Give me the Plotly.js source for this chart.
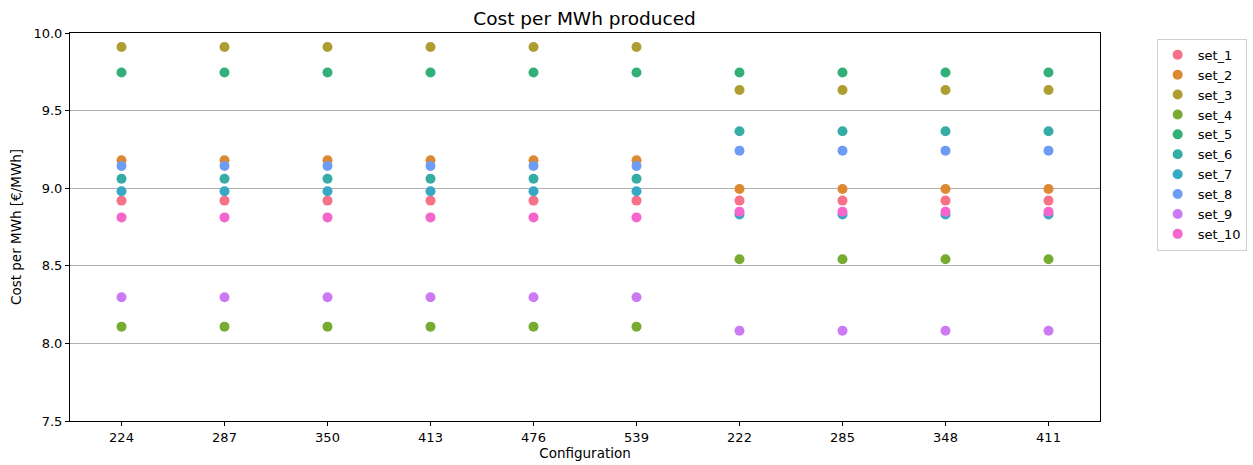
<!DOCTYPE html>
<html>
<head>
<meta charset="utf-8">
<script src="https://cdn.plot.ly/plotly-3.0.1.min.js"></script>
<style>html,body{margin:0;padding:0;background:#fff;}#chart{width:1253px;height:465px;}</style>
</head>
<body>
<div id="chart"></div>
<script>
const configurations = ["224","287","350","413","476","539","222","285","348","411"];
const seriesNames = ["set_1","set_2","set_3","set_4","set_5","set_6","set_7","set_8","set_9","set_10"];
const set_1  = [8.92,8.92,8.92,8.92,8.92,8.92,8.92,8.92,8.92,8.92];
const set_2  = [9.18,9.18,9.18,9.18,9.18,9.18,8.995,8.995,8.995,8.995];
const set_3  = [9.91,9.91,9.91,9.91,9.91,9.91,9.633,9.633,9.633,9.633];
const set_4  = [8.108,8.108,8.108,8.108,8.108,8.108,8.542,8.542,8.542,8.542];
const set_5  = [9.745,9.745,9.745,9.745,9.745,9.745,9.745,9.745,9.745,9.745];
const set_6  = [9.061,9.061,9.061,9.061,9.061,9.061,9.367,9.367,9.367,9.367];
const set_7  = [8.98,8.98,8.98,8.98,8.98,8.98,8.83,8.83,8.83,8.83];
const set_8  = [9.143,9.143,9.143,9.143,9.143,9.143,9.242,9.242,9.242,9.242];
const set_9  = [8.297,8.297,8.297,8.297,8.297,8.297,8.082,8.082,8.082,8.082];
const set_10 = [8.812,8.812,8.812,8.812,8.812,8.812,8.849,8.849,8.849,8.849];
const seriesValues = [set_1,set_2,set_3,set_4,set_5,set_6,set_7,set_8,set_9,set_10];
const colors = ["#f77189","#dc8932","#ae9d31","#77ab31","#33b07a","#36ada4","#38a9c5","#6e9bf4","#cc7af4","#f565cc"];

const traces = seriesNames.map((name, i) => ({
  type: "scatter",
  mode: "markers",
  name: name,
  x: configurations,
  y: seriesValues[i],
  marker: {color: colors[i], size: 10, line: {width: 0}}
}));

const font = "DejaVu Sans, sans-serif";
const layout = {
  width: 1253, height: 465,
  margin: {l: 70, r: 153, t: 33, b: 44, autoexpand: false},
  paper_bgcolor: "#fff", plot_bgcolor: "#fff",
  font: {family: font, size: 13, color: "#000"},
  title: {text: "Cost per MWh produced", font: {family: font, size: 18.5, color: "#000"}, x: 0.4665, xanchor: "center", y: 0.96, yanchor: "middle"},
  xaxis: {
    type: "category", categoryorder: "array", categoryarray: configurations,
    range: [-0.5, 9.5],
    title: {text: "Configuration", font: {size: 13.5}, standoff: 3},
    showgrid: false, zeroline: false,
    showline: true, linecolor: "#000", linewidth: 1, mirror: true,
    ticks: "outside", ticklen: 4, tickcolor: "#000",
    tickfont: {size: 13}
  },
  yaxis: {
    range: [7.5, 10.0], tickvals: [7.5,8.0,8.5,9.0,9.5,10.0], tickformat: ".1f",
    title: {text: "Cost per MWh [€/MWh]", font: {size: 13.5}, standoff: 8},
    showgrid: true, gridcolor: "#b0b0b0", gridwidth: 1, zeroline: false,
    showline: true, linecolor: "#000", linewidth: 1, mirror: true,
    ticks: "outside", ticklen: 4, tickcolor: "#000",
    tickfont: {size: 13}
  },
  legend: {
    x: 1.055, y: 0.985, xanchor: "left", yanchor: "top",
    bordercolor: "#d0d0d0", borderwidth: 1, bgcolor: "#fff",
    font: {size: 13}, itemwidth: 30, tracegroupgap: 0
  },
  showlegend: true
};
Plotly.newPlot("chart", traces, layout, {displayModeBar: false, staticPlot: true});
</script>
</body>
</html>
